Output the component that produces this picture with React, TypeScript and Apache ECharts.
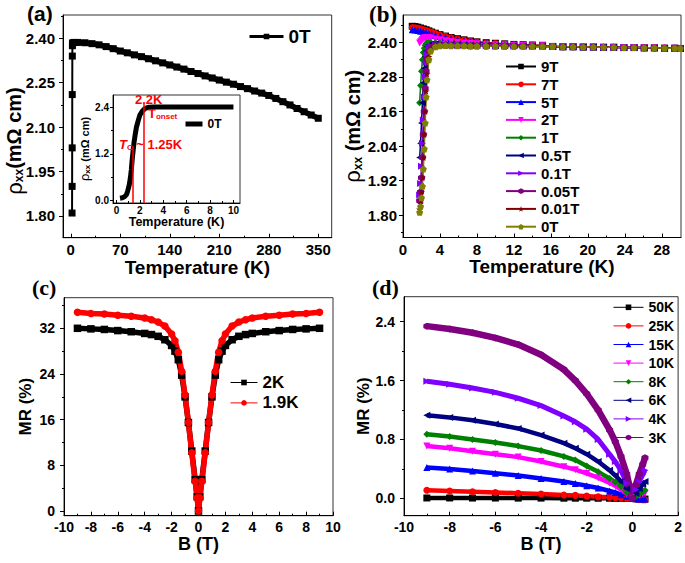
import React, { useEffect, useRef } from 'react';
import * as echarts from 'echarts';

const FONT = '"Liberation Sans", Arial, sans-serif';
const SERIF = '"Liberation Serif", "Times New Roman", serif';

// ---------- (a) rho_xx vs T, 0 T ----------
const aTemps = [1.8, 1.9, 2.0, 2.1, 2.2, 2.3, 2.5, 3, 5, 10, 20, 30, 40, 50, 60, 70, 80, 90, 100, 110, 120, 130, 140, 150, 160, 170, 180, 190, 200, 210, 220, 230, 240, 250, 260, 270, 280, 290, 300, 310, 320, 330, 340, 350];
const aRho = [1.81, 1.90, 2.03, 2.21, 2.34, 2.375, 2.383, 2.385, 2.386, 2.386, 2.385, 2.382, 2.378, 2.372, 2.365, 2.357, 2.351, 2.344, 2.338, 2.331, 2.324, 2.317, 2.310, 2.303, 2.296, 2.288, 2.281, 2.273, 2.266, 2.259, 2.252, 2.245, 2.237, 2.230, 2.222, 2.215, 2.207, 2.197, 2.186, 2.175, 2.163, 2.152, 2.141, 2.130];
const aTransitionPoints = 9; // points of the steep low-T part (thin line)
const aXTicks = [0, 70, 140, 210, 280, 350];
const aXMinor = [35, 105, 175, 245, 315];
const aYTicks = [1.8, 1.95, 2.1, 2.25, 2.4];
const aYMinor = [1.875, 2.025, 2.175, 2.325, 2.475];

// ---------- (a) inset ----------
const insetTemps = [0.3, 0.5, 0.7, 0.85, 0.95, 1.05, 1.12, 1.2, 1.27, 1.34, 1.42, 1.5, 1.6, 1.7, 1.85, 2.0, 2.2, 2.4, 2.6, 2.8, 3.2, 3.6, 4.0, 5.0, 6.0, 7.0, 8.0, 9.0, 10.0];
const insetRho = [0.06, 0.07, 0.10, 0.15, 0.24, 0.35, 0.45, 0.62, 0.80, 1.05, 1.28, 1.50, 1.70, 1.88, 2.05, 2.20, 2.30, 2.36, 2.39, 2.40, 2.41, 2.41, 2.41, 2.41, 2.41, 2.41, 2.41, 2.41, 2.41];
const insetTc = 1.4;
const insetTcTop = 1.4;
const insetTonset = 2.35;
const insetTonsetTop = 2.485;
const insetXTicks = [0, 2, 4, 6, 8, 10];
const insetXMinor = [1, 3, 5, 7, 9];
const insetYTicks = [0, 1.2, 2.4];
const insetYMinor = [0.6, 1.8];

// ---------- (b) rho_xx vs T in fields ----------
const bHighTemps = [1.0, 1.3, 1.6, 1.9, 2.2, 2.5, 2.8, 3.1, 3.5, 4.0, 4.6, 5.2, 5.9, 6.6, 7.3, 8.0, 9.0, 10.0, 11.0, 12.0, 13.0, 14.0, 15.1];
const rho9T = [2.456, 2.455, 2.453, 2.450, 2.447, 2.444, 2.440, 2.436, 2.432, 2.427, 2.422, 2.417, 2.413, 2.409, 2.405, 2.402, 2.399, 2.397, 2.395, 2.393, 2.392, 2.391, 2.390];
const rho7T = [2.452, 2.451, 2.449, 2.447, 2.444, 2.441, 2.438, 2.435, 2.431, 2.426, 2.421, 2.416, 2.412, 2.408, 2.404, 2.401, 2.398, 2.396, 2.394, 2.392, 2.391, 2.390, 2.389];
const rho5T = [2.444, 2.443, 2.441, 2.439, 2.437, 2.434, 2.431, 2.428, 2.425, 2.421, 2.417, 2.413, 2.409, 2.406, 2.403, 2.400, 2.397, 2.395, 2.393, 2.391, 2.390, 2.389, 2.388];
const bLowTemps = [1.8, 1.9, 2.0, 2.1, 2.2, 2.3, 2.4, 2.5, 2.6, 2.8, 3.0, 3.5, 4.0, 4.6, 5.2, 5.9, 6.6, 7.3, 8.0, 9.0, 10.0, 11.0, 12.0, 13.0, 14.0, 15.1];
const rho2T = [2.398, 2.402, 2.406, 2.410, 2.413, 2.415, 2.416, 2.417, 2.417, 2.416, 2.415, 2.412, 2.409, 2.406, 2.403, 2.400, 2.398, 2.396, 2.395, 2.393, 2.392, 2.391, 2.390, 2.389, 2.388, 2.388];
const rho1T = [2.190, 2.250, 2.300, 2.340, 2.365, 2.380, 2.390, 2.396, 2.399, 2.400, 2.400, 2.399, 2.398, 2.396, 2.394, 2.393, 2.392, 2.391, 2.390, 2.390, 2.389, 2.389, 2.388, 2.388, 2.388, 2.387];
const rho05T = [2.000, 2.050, 2.120, 2.190, 2.260, 2.310, 2.350, 2.370, 2.385, 2.392, 2.394, 2.395, 2.394, 2.393, 2.392, 2.391, 2.390, 2.390, 2.389, 2.389, 2.388, 2.388, 2.388, 2.387, 2.387, 2.387];
const rho01T = [1.870, 1.910, 1.970, 2.050, 2.130, 2.210, 2.280, 2.330, 2.360, 2.380, 2.388, 2.391, 2.391, 2.391, 2.390, 2.389, 2.389, 2.388, 2.388, 2.388, 2.387, 2.387, 2.387, 2.387, 2.386, 2.386];
const rho005T = [1.850, 1.880, 1.930, 2.000, 2.080, 2.160, 2.240, 2.300, 2.340, 2.370, 2.382, 2.389, 2.390, 2.390, 2.389, 2.389, 2.388, 2.388, 2.388, 2.387, 2.387, 2.387, 2.387, 2.386, 2.386, 2.386];
const rho001T = [1.820, 1.840, 1.880, 1.930, 2.000, 2.080, 2.160, 2.230, 2.290, 2.350, 2.375, 2.386, 2.389, 2.389, 2.389, 2.388, 2.388, 2.388, 2.387, 2.387, 2.387, 2.387, 2.386, 2.386, 2.386, 2.386];
const rho0T = [1.810, 1.830, 1.860, 1.900, 1.960, 2.030, 2.120, 2.210, 2.270, 2.340, 2.370, 2.385, 2.388, 2.389, 2.388, 2.388, 2.388, 2.387, 2.387, 2.387, 2.387, 2.386, 2.386, 2.386, 2.386, 2.386];
const bTailTemps = [16.2, 17.3, 18.4, 19.5, 20.6, 21.7, 22.8, 23.9, 25.0, 26.1, 27.2, 28.3, 29.4, 30.0];
const bTailRho = [2.386, 2.385, 2.385, 2.384, 2.384, 2.383, 2.383, 2.382, 2.382, 2.381, 2.381, 2.380, 2.380, 2.379];
const bXTicks = [0, 4, 8, 12, 16, 20, 24, 28];
const bXMinor = [2, 6, 10, 14, 18, 22, 26];
const bYTicks = [1.8, 1.92, 2.04, 2.16, 2.28, 2.4];
const bYMinor = [1.74, 1.86, 1.98, 2.1, 2.22, 2.34, 2.46];

// ---------- (c) MR vs B ----------
const cField = [-9, -8, -7, -6, -5, -4, -3.5, -3, -2.5, -2, -1.75, -1.5, -1.25, -1, -0.75, -0.5, -0.25, -0.1, 0, 0.1, 0.25, 0.5, 0.75, 1, 1.25, 1.5, 1.75, 2, 2.5, 3, 3.5, 4, 5, 6, 7, 8, 9];
const mr2K = [32.0, 31.9, 31.8, 31.6, 31.4, 31.1, 30.9, 30.6, 30.0, 29.0, 28.0, 26.5, 23.8, 20.0, 15.5, 10.5, 5.5, 2.5, 0.0, 2.5, 5.5, 10.5, 15.5, 20.0, 23.8, 26.5, 28.0, 29.0, 30.0, 30.6, 30.9, 31.1, 31.4, 31.6, 31.8, 31.9, 32.0];
const mr19K = [34.8, 34.6, 34.5, 34.3, 34.1, 33.8, 33.5, 33.1, 32.4, 31.0, 29.8, 27.8, 24.5, 20.3, 15.5, 10.2, 5.2, 2.3, 0.0, 2.3, 5.2, 10.2, 15.5, 20.3, 24.5, 27.8, 29.8, 31.0, 32.4, 33.1, 33.5, 33.8, 34.1, 34.3, 34.5, 34.6, 34.8];
const cXTicks = [-10, -8, -6, -4, -2, 0, 2, 4, 6, 8, 10];
const cXMinor = [-9, -7, -5, -3, -1, 1, 3, 5, 7, 9];
const cYTicks = [0, 8, 16, 24, 32];
const cYMinor = [4, 12, 20, 28, 36];

// ---------- (d) MR vs B ----------
const dField = [-9, -8, -7, -6, -5, -4, -3, -2.5, -2, -1.5, -1, -0.75, -0.5, -0.25, 0, 0.15, 0.3, 0.45, 0.55];
const mr50K = [0.005, 0.005, 0.004, 0.004, 0.003, 0.003, 0.002, 0.002, 0.002, 0.001, 0.001, 0.0, 0.0, 0.0, 0.0, -0.005, -0.01, -0.01, -0.01];
const mr25K = [0.11, 0.10, 0.09, 0.08, 0.07, 0.06, 0.045, 0.04, 0.03, 0.02, 0.015, 0.01, 0.005, 0.0, 0.0, -0.01, -0.015, -0.02, -0.02];
const mr15K = [0.42, 0.40, 0.37, 0.34, 0.31, 0.27, 0.23, 0.20, 0.17, 0.14, 0.10, 0.08, 0.05, 0.03, 0.0, -0.005, -0.01, -0.01, -0.01];
const mr10K = [0.71, 0.68, 0.64, 0.60, 0.56, 0.50, 0.43, 0.39, 0.34, 0.28, 0.21, 0.17, 0.12, 0.06, 0.0, 0.02, 0.04, 0.06, 0.07];
const mr8K = [0.87, 0.84, 0.80, 0.76, 0.71, 0.65, 0.57, 0.52, 0.44, 0.36, 0.27, 0.22, 0.16, 0.08, 0.0, 0.03, 0.06, 0.09, 0.11];
const mr6K = [1.13, 1.10, 1.06, 1.01, 0.95, 0.86, 0.75, 0.68, 0.60, 0.50, 0.38, 0.31, 0.23, 0.13, 0.0, 0.07, 0.13, 0.19, 0.23];
const mr4K = [1.59, 1.55, 1.50, 1.44, 1.36, 1.26, 1.12, 1.04, 0.94, 0.80, 0.60, 0.50, 0.38, 0.21, 0.0, 0.12, 0.23, 0.32, 0.38];
const mr3K = [2.34, 2.30, 2.25, 2.18, 2.09, 1.95, 1.75, 1.60, 1.42, 1.20, 0.93, 0.77, 0.57, 0.33, 0.0, 0.18, 0.33, 0.46, 0.55];
const dXTicks = [-10, -8, -6, -4, -2, 0, 2];
const dXMinor = [-9, -7, -5, -3, -1, 1];
const dYTicks = [0, 0.8, 1.6, 2.4];
const dYMinor = [0.4, 1.2, 2.0];

const SYM = {
  sq: 'rect',
  ci: 'circle',
  up: 'triangle',
  dn: 'path://M0,0L10,0L5,9Z',
  lf: 'path://M9,0L9,10L0,5Z',
  rt: 'path://M0,0L9,5L0,10Z',
  di: 'diamond',
  hx: 'path://M5,0L9.33,2.5L9.33,7.5L5,10L0.67,7.5L0.67,2.5Z',
  st: 'path://M5,0L6.2,3.6L10,3.6L7,5.9L8.1,9.5L5,7.3L1.9,9.5L3,5.9L0,3.6L3.8,3.6Z',
  pt: 'path://M5,0L10,3.8L8.1,10L1.9,10L0,3.8Z',
};

const zip = (xs: number[], ys: number[]) => xs.map((x, i) => [x, ys[i]]);
const strip = (name: string) => name.slice(2);

function addAxes(arr: any[], dim: 'x' | 'y', s: any): number {
  const idx = arr.length;
  const position = dim === 'x' ? 'bottom' : 'left';
  const inside = dim === 'x';
  const tickLen = s.tickLen ?? 4;
  arr.push({
    type: 'value', gridIndex: s.grid, position, min: s.min, max: s.max,
    axisLine: { show: true, onZero: false, lineStyle: { color: '#000', width: 1 } },
    axisTick: { show: true, inside, length: tickLen, customValues: s.major, lineStyle: { color: '#000', width: 1 } },
    axisLabel: { show: true, customValues: s.major, formatter: s.fmt, fontSize: s.fontSize, fontWeight: 'bold', fontFamily: FONT, color: '#000', margin: s.margin },
    splitLine: { show: false },
    name: s.name, nameLocation: 'middle', nameGap: s.nameGap, nameTextStyle: s.nameStyle,
  });
  arr.push({
    type: 'value', gridIndex: s.grid, position, min: s.min, max: s.max,
    axisLine: { show: false, onZero: false },
    axisLabel: { show: false },
    axisTick: { show: true, inside, length: Math.max(2, tickLen / 2), customValues: s.minor, lineStyle: { color: '#000', width: 1 } },
    splitLine: { show: false },
  });
  return idx;
}

const rhoName = (space: boolean) => `{r|ρ}{s|xx}{n|${space ? ' ' : ''}(mΩ cm)}`;
const rhoRich = (big: number, sub: number) => ({
  r: { fontSize: big + 2, fontWeight: 'normal', fontFamily: FONT, color: '#000', fill: '#000' },
  s: { fontSize: sub, fontWeight: 'bold', fontFamily: FONT, color: '#000', fill: '#000', verticalAlign: 'bottom' },
  n: { fontSize: big, fontWeight: 'bold', fontFamily: FONT, color: '#000', fill: '#000' },
});
const rhoStyle = (big: number, sub: number) => ({ color: '#000', rich: rhoRich(big, sub) });
const titleStyle = (size: number) => ({ fontSize: size, fontWeight: 'bold', fontFamily: FONT, color: '#000' });

function buildOption() {
  const grids = [
    { left: 63, top: 15, width: 268.7, height: 222.7 },
    { left: 113, top: 95, width: 127, height: 108 },
    { left: 403, top: 15, width: 278, height: 222.5 },
    { left: 64, top: 297.7, width: 269, height: 218 },
    { left: 404, top: 296.7, width: 277, height: 219 },
  ].map((g) => ({ ...g, show: true, borderColor: '#333', borderWidth: 1, backgroundColor: 'transparent', containLabel: false }));

  const xAxes: any[] = [];
  const yAxes: any[] = [];
  const f0 = (v: number) => String(v);
  const f1 = (v: number) => v.toFixed(1);
  const f2 = (v: number) => v.toFixed(2);

  const ax = addAxes(xAxes, 'x', { grid: 0, min: -11, max: 369, major: aXTicks, minor: aXMinor, fmt: f0, fontSize: 15, margin: 4, name: 'Temperature (K)', nameGap: 15, nameStyle: titleStyle(19) });
  const ay = addAxes(yAxes, 'y', { grid: 0, min: 1.7267, max: 2.4787, major: aYTicks, minor: aYMinor, fmt: f2, fontSize: 15, margin: 8, name: '', nameGap: 40, nameStyle: {} });
  const ix = addAxes(xAxes, 'x', { grid: 1, min: -0.3, max: 10.56, major: insetXTicks, minor: insetXMinor, fmt: f0, fontSize: 10, margin: 2, tickLen: 3, name: 'Temperature (K)', nameGap: 11, nameStyle: titleStyle(12.5) });
  const iy = addAxes(yAxes, 'y', { grid: 1, min: -0.064, max: 2.717, major: insetYTicks, minor: insetYMinor, fmt: f1, fontSize: 10, margin: 4, tickLen: 3, name: rhoName(true), nameGap: 20, nameStyle: rhoStyle(11, 8) });
  const bx = addAxes(xAxes, 'x', { grid: 2, min: 0, max: 30.08, major: bXTicks, minor: bXMinor, fmt: f0, fontSize: 15, margin: 4, name: 'Temperature (K)', nameGap: 15, nameStyle: titleStyle(19) });
  const by = addAxes(yAxes, 'y', { grid: 2, min: 1.7222, max: 2.4952, major: bYTicks, minor: bYMinor, fmt: f2, fontSize: 15, margin: 6, name: rhoName(true), nameGap: 38, nameStyle: rhoStyle(20, 12) });
  const cx = addAxes(xAxes, 'x', { grid: 3, min: -10, max: 10, major: cXTicks, minor: cXMinor, fmt: f0, fontSize: 14, margin: 4, name: 'B (T)', nameGap: 18, nameStyle: titleStyle(18) });
  const cy = addAxes(yAxes, 'y', { grid: 3, min: -0.82, max: 37.36, major: cYTicks, minor: cYMinor, fmt: f0, fontSize: 14, margin: 9, name: 'MR (%)', nameGap: 30, nameStyle: titleStyle(17) });
  const dx = addAxes(xAxes, 'x', { grid: 4, min: -10, max: 2, major: dXTicks, minor: dXMinor, fmt: f0, fontSize: 14, margin: 4, name: 'B (T)', nameGap: 18, nameStyle: titleStyle(18) });
  const dy = addAxes(yAxes, 'y', { grid: 4, min: -0.236, max: 2.74, major: dYTicks, minor: dYMinor, fmt: f1, fontSize: 14, margin: 9, name: 'MR (%)', nameGap: 30, nameStyle: titleStyle(17) });

  const series: any[] = [];
  const aData = zip(aTemps, aRho);
  series.push({
    name: 'a:0T', type: 'line', xAxisIndex: ax, yAxisIndex: ay, data: aData.slice(0, aTransitionPoints),
    symbol: SYM.sq, symbolSize: 7, showAllSymbol: true, lineStyle: { color: '#000', width: 2 }, itemStyle: { color: '#000' },
  });
  series.push({
    name: 'a:0T', type: 'line', xAxisIndex: ax, yAxisIndex: ay, data: aData.slice(aTransitionPoints - 1),
    symbol: SYM.sq, symbolSize: 7, showAllSymbol: true, lineStyle: { color: '#000', width: 5.5 }, itemStyle: { color: '#000' },
  });
  series.push({
    name: 'i:0T', type: 'line', xAxisIndex: ix, yAxisIndex: iy, data: zip(insetTemps, insetRho),
    symbol: 'none', lineStyle: { color: '#000', width: 5 }, itemStyle: { color: '#000' },
    markLine: {
      silent: true, symbol: 'none', label: { show: false },
      lineStyle: { color: '#ff0000', width: 1.5, type: 'solid' },
      data: [
        [{ coord: [insetTc, -0.064] }, { coord: [insetTc, insetTcTop] }],
        [{ coord: [insetTonset, -0.064] }, { coord: [insetTonset, insetTonsetTop] }],
      ],
    },
  });

  const bDefs = [
    { name: 'b:9T', temps: bHighTemps, rho: rho9T, color: '#000000', symbol: SYM.sq },
    { name: 'b:7T', temps: bHighTemps, rho: rho7T, color: '#ff0000', symbol: SYM.ci },
    { name: 'b:5T', temps: bHighTemps, rho: rho5T, color: '#0000ff', symbol: SYM.up },
    { name: 'b:2T', temps: bLowTemps, rho: rho2T, color: '#ff00ff', symbol: SYM.dn },
    { name: 'b:1T', temps: bLowTemps, rho: rho1T, color: '#008000', symbol: SYM.di },
    { name: 'b:0.5T', temps: bLowTemps, rho: rho05T, color: '#000080', symbol: SYM.lf },
    { name: 'b:0.1T', temps: bLowTemps, rho: rho01T, color: '#8000ff', symbol: SYM.rt },
    { name: 'b:0.05T', temps: bLowTemps, rho: rho005T, color: '#800080', symbol: SYM.hx },
    { name: 'b:0.01T', temps: bLowTemps, rho: rho001T, color: '#800000', symbol: SYM.st },
    { name: 'b:0T', temps: bLowTemps, rho: rho0T, color: '#808000', symbol: SYM.pt },
  ];
  bDefs.forEach((d) => {
    series.push({
      name: d.name, type: 'line', xAxisIndex: bx, yAxisIndex: by,
      data: zip(d.temps, d.rho).concat(zip(bTailTemps, bTailRho)),
      symbol: d.symbol, symbolSize: 7, showAllSymbol: true,
      lineStyle: { color: d.color, width: 1.5 }, itemStyle: { color: d.color },
    });
  });

  const cDefs = [
    { name: 'c:2K', mr: mr2K, color: '#000000', symbol: SYM.sq },
    { name: 'c:1.9K', mr: mr19K, color: '#ff0000', symbol: SYM.ci },
  ];
  cDefs.forEach((d) => {
    series.push({
      name: d.name, type: 'line', xAxisIndex: cx, yAxisIndex: cy, data: zip(cField, d.mr),
      symbol: d.symbol, symbolSize: 7.5, showAllSymbol: true,
      lineStyle: { color: d.color, width: 5.5 }, itemStyle: { color: d.color },
    });
  });

  const dDefs = [
    { name: 'd:50K', mr: mr50K, color: '#000000', symbol: SYM.sq, w: 4.5 },
    { name: 'd:25K', mr: mr25K, color: '#ff0000', symbol: SYM.ci, w: 4.5 },
    { name: 'd:15K', mr: mr15K, color: '#0000ff', symbol: SYM.up, w: 4.5 },
    { name: 'd:10K', mr: mr10K, color: '#ff00ff', symbol: SYM.dn, w: 4.5 },
    { name: 'd:8K', mr: mr8K, color: '#008000', symbol: SYM.di, w: 4.5 },
    { name: 'd:6K', mr: mr6K, color: '#000080', symbol: SYM.lf, w: 4.5 },
    { name: 'd:4K', mr: mr4K, color: '#8000ff', symbol: SYM.rt, w: 5 },
    { name: 'd:3K', mr: mr3K, color: '#800080', symbol: SYM.hx, w: 6.5 },
  ];
  dDefs.forEach((d) => {
    series.push({
      name: d.name, type: 'line', xAxisIndex: dx, yAxisIndex: dy, data: zip(dField, d.mr),
      symbol: d.symbol, symbolSize: 7, showAllSymbol: true,
      lineStyle: { color: d.color, width: d.w }, itemStyle: { color: d.color },
    });
  });

  const legText = (size: number) => ({ fontSize: size, fontWeight: 'bold', fontFamily: FONT, color: '#000' });
  const legend = [
    { data: ['a:0T'], left: 248, top: 27, padding: 0, itemWidth: 34, itemHeight: 7, formatter: strip, textStyle: legText(19), lineStyle: { width: 3 }, selectedMode: false },
    { data: ['i:0T'], left: 183, top: 118, padding: 0, itemWidth: 17, itemHeight: 5, formatter: strip, textStyle: legText(12), lineStyle: { width: 5 }, selectedMode: false },
    { data: bDefs.map((d) => d.name), orient: 'vertical', left: 505, top: 59, padding: 0, itemGap: 2.8, itemWidth: 30, itemHeight: 7, formatter: strip, textStyle: legText(15), lineStyle: { width: 2 }, selectedMode: false },
    { data: cDefs.map((d) => d.name), orient: 'vertical', left: 230, top: 374, padding: 0, itemGap: 3.4, itemWidth: 27, itemHeight: 7, formatter: strip, textStyle: legText(17), lineStyle: { width: 1 }, selectedMode: false },
    { data: dDefs.map((d) => d.name), orient: 'vertical', left: 613, top: 300.3, padding: 0, itemGap: 4.6, itemWidth: 30, itemHeight: 7, formatter: strip, textStyle: legText(14), lineStyle: { width: 1 }, selectedMode: false },
  ];

  const red = '#ff0000';
  const graphic = [
    { type: 'text', left: 27, top: 3, style: { text: '(a)', font: `bold 21px ${FONT}`, fill: '#000' } },
    { type: 'text', left: 369, top: 3, style: { text: '(b)', font: `bold 23px ${SERIF}`, fill: '#000' } },
    { type: 'text', left: 32, top: 276, style: { text: '(c)', font: `bold 22px ${SERIF}`, fill: '#000' } },
    { type: 'text', left: 372, top: 276, style: { text: '(d)', font: `bold 22px ${SERIF}`, fill: '#000' } },
    {
      type: 'text', x: 14, y: 141, rotation: Math.PI / 2,
      style: { text: rhoName(false), align: 'center', verticalAlign: 'middle', rich: rhoRich(20, 12) },
    },
    { type: 'text', left: 135, top: 93, z: 10, style: { text: '2.2K', font: `bold 13px ${FONT}`, fill: red } },
    {
      type: 'text', left: 148, top: 107, z: 10,
      style: {
        text: '{t|T}{s|onset}',
        rich: {
          t: { fontSize: 13, fontWeight: 'bold', fontFamily: FONT, fill: red },
          s: { fontSize: 8, fontWeight: 'bold', fontFamily: FONT, fill: red, verticalAlign: 'bottom' },
        },
      },
    },
    {
      type: 'text', left: 119, top: 138, z: 10,
      style: {
        text: '{t|T}{s|C}{n| ~ 1.25K}',
        rich: {
          t: { fontSize: 13, fontWeight: 'bold', fontStyle: 'italic', fontFamily: FONT, fill: red },
          s: { fontSize: 8, fontWeight: 'bold', fontFamily: FONT, fill: red, verticalAlign: 'bottom' },
          n: { fontSize: 13, fontWeight: 'bold', fontFamily: FONT, fill: red },
        },
      },
    },
  ];

  return {
    animation: false,
    backgroundColor: '#fff',
    grid: grids,
    xAxis: xAxes,
    yAxis: yAxes,
    legend,
    series,
    graphic,
  };
}

export default function App() {
  const ref = useRef<HTMLDivElement>(null);
  useEffect(() => {
    if (!ref.current) return;
    const chart = echarts.init(ref.current, null, { renderer: 'svg' });
    chart.setOption(buildOption() as any);
    return () => chart.dispose();
  }, []);
  return <div ref={ref} style={{ position: 'fixed', left: 0, top: 0, width: 685, height: 563, background: '#fff' }} />;
}
